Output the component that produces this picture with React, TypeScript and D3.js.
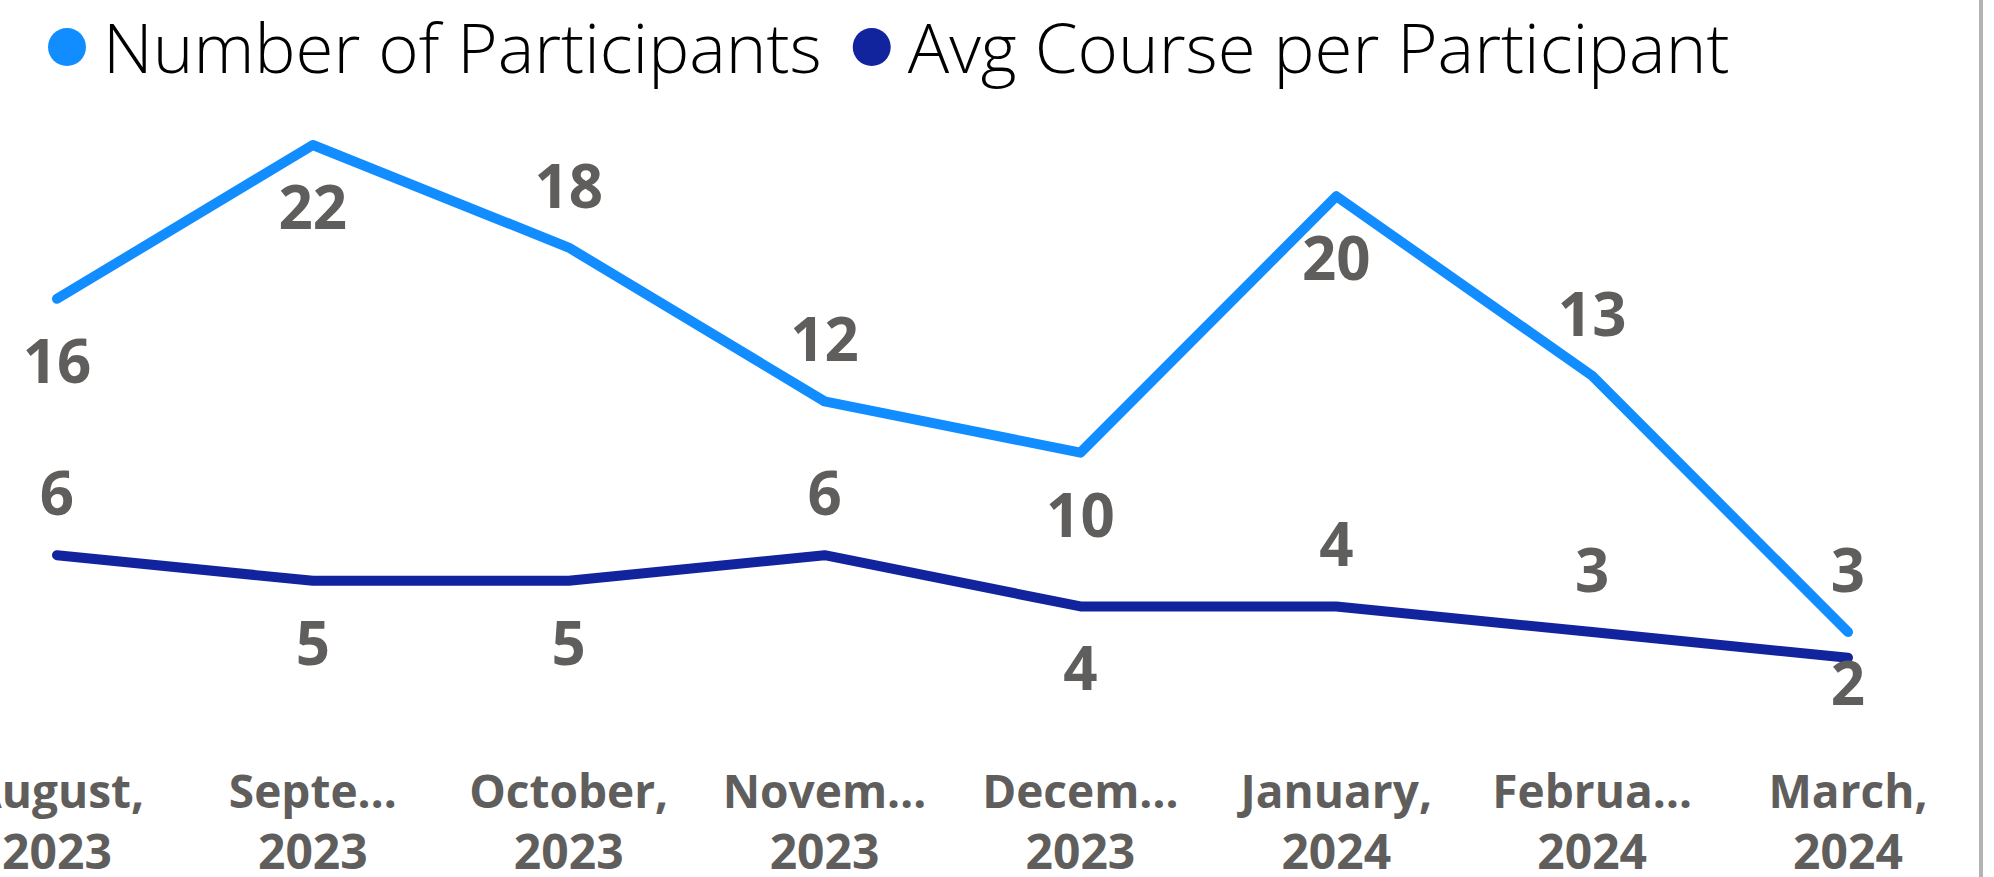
import { useEffect, useRef } from 'react';
import * as d3 from 'd3';

const months = ['August, 2023', 'September, 2023', 'October, 2023', 'November, 2023', 'December, 2023', 'January, 2024', 'February, 2024', 'March, 2024'];
const tickTop = ['August,', 'Septe…', 'October,', 'Novem…', 'Decem…', 'January,', 'Februa…', 'March,'];
const tickBottom = ['2023', '2023', '2023', '2023', '2023', '2024', '2024', '2024'];

const participants = [16, 22, 18, 12, 10, 20, 13, 3];
const avgCourse = [6, 5, 5, 6, 4, 4, 3, 2];

// where Power BI put each data label
const participantsLabelPos = ['below', 'below', 'above', 'above', 'below', 'below', 'above', 'above'];
const avgCourseLabelPos = ['above', 'below', 'below', 'above', 'below', 'above', 'above', 'below'];

const seriesNames = ['Number of Participants', 'Avg Course per Participant'];
const seriesColors = ['#118DFF', '#12239E'];

const Chart = () => {
  const ref = useRef<SVGSVGElement>(null);

  const drawChart = () => {
    const width = 1994;
    const height = 877;
    const font = "'Segoe UI', 'Open Sans', sans-serif";

    const svg = d3.select(ref.current);
    svg.selectAll('*').remove();
    svg.attr('width', width).attr('height', height);

    const x = d3.scalePoint<string>()
      .domain(months)
      .range([57, 1848]);

    const y = d3.scaleLinear()
      .domain([0, 22])
      .range([709, 145]);

    // legend, each entry placed after the previous one
    let lx = 67;
    seriesNames.forEach((name, i) => {
      svg.append('circle')
        .attr('cx', lx)
        .attr('cy', 47)
        .attr('r', 19)
        .attr('fill', seriesColors[i]);
      const t = svg.append('text')
        .attr('x', lx + 36)
        .attr('y', 73)
        .attr('font-family', font)
        .attr('font-weight', 300)
        .attr('font-size', 69)
        .attr('fill', '#000')
        .text(name);
      const w = (t.node() as SVGTextElement).getComputedTextLength();
      lx = lx + 36 + w + 50;
    });

    // x axis labels
    const axis = svg.append('g').attr('font-family', font).attr('font-weight', 700)
      .attr('font-size', 46).attr('fill', '#605E5C').attr('text-anchor', 'middle');
    months.forEach((m, i) => {
      axis.append('text').attr('x', x(m)!).attr('y', 808).text(tickTop[i]);
      axis.append('text').attr('x', x(m)!).attr('y', 869).attr('font-size', 48).text(tickBottom[i]);
    });

    const line = d3.line<number>()
      .x((_, i) => x(months[i])!)
      .y(d => y(d));

    const series = [participants, avgCourse];
    const labelPos = [participantsLabelPos, avgCourseLabelPos];

    series.forEach((vals, s) => {
      svg.append('path')
        .datum(vals)
        .attr('fill', 'none')
        .attr('stroke', seriesColors[s])
        .attr('stroke-width', 10)
        .attr('stroke-linecap', 'round')
        .attr('stroke-linejoin', 'round')
        .attr('d', line);
    });

    series.forEach((vals, s) => {
      svg.append('g')
        .selectAll('text')
        .data(vals)
        .join('text')
        .attr('x', (_, i) => x(months[i])!)
        .attr('y', (d, i) => labelPos[s][i] === 'above'
          ? y(d) - 40
          : Math.min(y(d) + 84, 705))
        .attr('text-anchor', 'middle')
        .attr('font-family', font)
        .attr('font-weight', 700)
        .attr('font-size', 60)
        .attr('fill', '#605E5C')
        .text(d => d);
    });

    // right border
    svg.append('line')
      .attr('x1', 1981).attr('x2', 1981)
      .attr('y1', 0).attr('y2', height)
      .attr('stroke', '#B3B3B3')
      .attr('stroke-width', 4);
  };

  useEffect(() => {
    drawChart();
  }, []);

  return <svg ref={ref} style={{ position: 'absolute', left: 0, top: 0 }}></svg>;
};

export default function App() {
  return <Chart />;
}
